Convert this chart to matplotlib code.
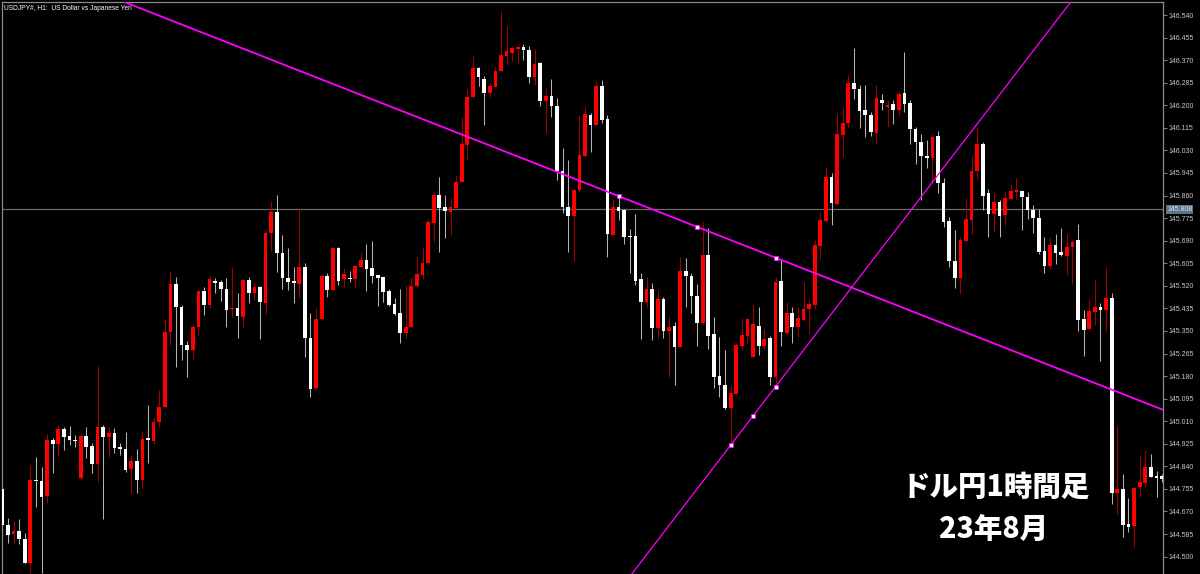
import matplotlib
matplotlib.use("Agg")
import matplotlib.pyplot as plt
import numpy as np

# USDJPY H1 candles (left -> right)
opens = [144.753, 144.619, 144.584, 144.598, 144.565, 144.475, 144.789, 144.786, 144.728, 144.939,
         144.924, 144.981, 144.954, 144.939, 144.795, 144.954, 144.917, 144.848, 144.987, 144.952,
         144.967, 144.914, 144.904, 144.829, 144.861, 144.789, 144.945, 144.937, 145.006, 145.062,
         145.345, 145.527, 145.441, 145.297, 145.278, 145.364, 145.500, 145.448, 145.539, 145.534,
         145.507, 145.431, 145.438, 145.404, 145.542, 145.492, 145.514, 145.456, 145.718, 145.797,
         145.642, 145.548, 145.538, 145.527, 145.592, 145.322, 145.134, 145.394, 145.557, 145.504,
         145.661, 145.544, 145.551, 145.544, 145.592, 145.617, 145.586, 145.560, 145.552, 145.502,
         145.452, 145.419, 145.341, 145.364, 145.519, 145.561, 145.605, 145.758, 145.862, 145.816,
         145.799, 145.812, 145.912, 146.050, 146.230, 146.339, 146.298, 146.247, 146.270, 146.330,
         146.386, 146.398, 146.413, 146.421, 146.408, 146.308, 146.358, 146.217, 146.235, 146.197,
         145.954, 145.818, 145.783, 145.881, 146.009, 146.163, 146.126, 146.273, 146.147, 145.711,
         145.818, 145.806, 145.709, 145.708, 145.544, 145.460, 145.509, 145.360, 145.469, 145.351,
         145.369, 145.291, 145.577, 145.557, 145.482, 145.381, 145.636, 145.338, 145.180, 145.146,
         145.058, 145.113, 145.293, 145.331, 145.253, 145.369, 145.293, 145.322, 145.175, 145.539,
         145.343, 145.419, 145.366, 145.391, 145.431, 145.448, 145.670, 145.765, 145.929, 145.828,
         146.088, 146.134, 146.285, 146.260, 146.182, 146.163, 146.094, 146.221, 146.194, 146.205,
         146.183, 146.247, 146.208, 146.112, 146.063, 146.009, 146.003, 146.083, 145.907, 145.763,
         145.614, 145.550, 145.689, 145.768, 145.952, 146.054, 145.868, 145.791, 145.837, 145.787,
         145.846, 145.875, 145.878, 145.856, 145.806, 145.774, 145.652, 145.595, 145.674, 145.649,
         145.634, 145.668, 145.691, 145.394, 145.358, 145.422, 145.439, 145.430, 145.473, 144.738,
         144.753, 144.623, 144.615, 144.761, 144.779, 144.836, 144.804, 144.804]
highs = [144.760, 144.644, 144.635, 144.640, 144.588, 144.845, 144.874, 144.839, 144.962, 144.945,
         144.996, 144.987, 144.992, 144.958, 144.962, 144.987, 144.929, 145.218, 144.996, 144.989,
         144.983, 144.927, 144.971, 144.883, 144.904, 144.974, 145.071, 145.025, 145.128, 145.394,
         145.576, 145.552, 145.448, 145.312, 145.372, 145.502, 145.517, 145.557, 145.548, 145.542,
         145.548, 145.590, 145.494, 145.545, 145.552, 145.536, 145.519, 145.730, 145.841, 145.862,
         145.711, 145.661, 145.590, 145.818, 145.605, 145.416, 145.435, 145.565, 145.570, 145.663,
         145.665, 145.586, 145.577, 145.597, 145.649, 145.678, 145.690, 145.562, 145.554, 145.507,
         145.473, 145.507, 145.523, 145.554, 145.632, 145.665, 145.770, 145.875, 145.929, 145.862,
         145.849, 145.937, 146.155, 146.260, 146.386, 146.345, 146.310, 146.283, 146.345, 146.556,
         146.499, 146.423, 146.431, 146.431, 146.423, 146.411, 146.364, 146.264, 146.298, 146.226,
         146.038, 145.994, 145.883, 146.160, 146.195, 146.172, 146.293, 146.295, 146.163, 145.846,
         145.853, 145.808, 145.733, 145.790, 145.569, 145.552, 145.529, 145.504, 145.477, 145.401,
         145.385, 145.630, 145.623, 145.567, 145.527, 145.762, 145.736, 145.401, 145.328, 145.278,
         145.146, 145.303, 145.397, 145.397, 145.452, 145.441, 145.356, 145.331, 145.552, 145.620,
         145.460, 145.439, 145.439, 145.536, 145.469, 145.693, 145.799, 145.966, 145.944, 146.170,
         146.192, 146.314, 146.416, 146.276, 146.276, 146.176, 146.276, 146.241, 146.217, 146.221,
         146.253, 146.401, 146.221, 146.119, 146.093, 146.071, 146.084, 146.102, 145.926, 145.779,
         145.730, 145.704, 145.849, 146.009, 146.119, 146.063, 145.884, 145.868, 145.843, 145.875,
         145.904, 145.925, 145.881, 145.872, 145.824, 145.808, 145.703, 145.703, 145.715, 145.737,
         145.715, 145.693, 145.753, 145.430, 145.471, 145.541, 145.455, 145.589, 145.494, 144.992,
         144.811, 144.720, 144.757, 144.883, 144.902, 144.887, 144.824, 144.811]
lows = [144.600, 144.553, 144.553, 144.548, 144.475, 144.440, 144.686, 144.440, 144.701, 144.814,
        144.879, 144.902, 144.920, 144.912, 144.793, 144.870, 144.814, 144.782, 144.640, 144.876,
        144.891, 144.883, 144.820, 144.738, 144.738, 144.757, 144.851, 144.924, 144.987, 145.060,
        145.297, 145.213, 145.241, 145.178, 145.243, 145.335, 145.410, 145.435, 145.492, 145.464,
        145.364, 145.404, 145.322, 145.366, 145.454, 145.467, 145.318, 145.414, 145.652, 145.573,
        145.507, 145.504, 145.456, 145.473, 145.251, 145.100, 145.130, 145.391, 145.479, 145.502,
        145.523, 145.514, 145.536, 145.514, 145.590, 145.502, 145.532, 145.444, 145.460, 145.444,
        145.410, 145.303, 145.322, 145.360, 145.517, 145.544, 145.603, 145.686, 145.649, 145.699,
        145.711, 145.808, 145.910, 145.994, 146.226, 146.273, 146.126, 146.232, 146.268, 146.327,
        146.352, 146.368, 146.358, 146.371, 146.285, 146.276, 146.197, 146.097, 146.155, 145.919,
        145.793, 145.649, 145.615, 145.875, 146.006, 146.025, 146.124, 146.132, 145.630, 145.709,
        145.768, 145.677, 145.567, 145.523, 145.318, 145.439, 145.316, 145.322, 145.322, 145.178,
        145.146, 145.288, 145.441, 145.416, 145.293, 145.376, 145.281, 145.134, 145.102, 145.055,
        144.920, 145.111, 145.278, 145.303, 145.251, 145.259, 145.281, 145.146, 145.143, 145.293,
        145.338, 145.306, 145.328, 145.389, 145.338, 145.431, 145.620, 145.762, 145.749, 145.826,
        146.006, 146.113, 146.222, 146.113, 146.079, 146.084, 146.059, 146.183, 146.119, 146.131,
        146.161, 146.176, 146.054, 145.977, 145.843, 145.965, 145.907, 145.868, 145.743, 145.589,
        145.512, 145.490, 145.686, 145.714, 145.922, 145.807, 145.704, 145.724, 145.703, 145.749,
        145.843, 145.846, 145.730, 145.770, 145.718, 145.640, 145.570, 145.582, 145.602, 145.634,
        145.561, 145.527, 145.349, 145.255, 145.353, 145.374, 145.237, 145.345, 144.698, 144.661,
        144.573, 144.594, 144.535, 144.723, 144.764, 144.799, 144.726, 144.780]
closes = [144.619, 144.581, 144.598, 144.565, 144.477, 144.789, 144.784, 144.726, 144.939, 144.924,
          144.981, 144.952, 144.939, 144.934, 144.954, 144.914, 144.848, 144.987, 144.952, 144.967,
          144.910, 144.904, 144.826, 144.861, 144.789, 144.942, 144.940, 145.008, 145.062, 145.345,
          145.527, 145.439, 145.297, 145.278, 145.366, 145.500, 145.448, 145.544, 145.532, 145.507,
          145.429, 145.438, 145.406, 145.542, 145.494, 145.514, 145.460, 145.718, 145.797, 145.642,
          145.548, 145.536, 145.529, 145.592, 145.322, 145.130, 145.394, 145.557, 145.504, 145.661,
          145.539, 145.565, 145.544, 145.595, 145.617, 145.582, 145.557, 145.551, 145.498, 145.448,
          145.414, 145.344, 145.366, 145.519, 145.565, 145.605, 145.762, 145.862, 145.812, 145.803,
          145.816, 145.912, 146.054, 146.230, 146.339, 146.308, 146.247, 146.273, 146.330, 146.389,
          146.404, 146.414, 146.418, 146.408, 146.308, 146.355, 146.217, 146.235, 146.197, 145.954,
          145.818, 145.783, 145.881, 146.013, 146.167, 146.126, 146.273, 146.145, 145.715, 145.818,
          145.803, 145.705, 145.705, 145.539, 145.460, 145.509, 145.360, 145.469, 145.351, 145.366,
          145.291, 145.577, 145.557, 145.482, 145.381, 145.636, 145.331, 145.178, 145.146, 145.058,
          145.118, 145.297, 145.335, 145.394, 145.376, 145.293, 145.318, 145.175, 145.536, 145.347,
          145.419, 145.366, 145.397, 145.431, 145.452, 145.674, 145.768, 145.929, 145.833, 146.092,
          146.134, 146.285, 146.260, 146.180, 146.163, 146.101, 146.226, 146.208, 146.202, 146.183,
          146.243, 146.205, 146.110, 146.063, 146.009, 146.003, 146.080, 145.907, 145.759, 145.612,
          145.550, 145.691, 145.772, 145.952, 146.054, 145.858, 145.789, 145.837, 145.783, 145.850,
          145.878, 145.881, 145.856, 145.806, 145.774, 145.649, 145.595, 145.674, 145.645, 145.636,
          145.665, 145.686, 145.391, 145.355, 145.426, 145.439, 145.430, 145.473, 144.738, 144.753,
          144.619, 144.613, 144.757, 144.782, 144.836, 144.801, 144.795, 144.791]

# trend lines (bar index, price of the anchor squares)
trend1_idx = [110, 124, 138]
trend1_px = [145.858, 145.743, 145.626]
trend2_idx = [130, 134, 138]
trend2_px = [144.920, 145.030, 145.140]

last_price = 145.808
ytick_vals = [146.540 - 0.085 * k for k in range(25)]
ytick_labels = ["%.3f" % v for v in ytick_vals]

title = "USDJPY#, H1:  US Dollar vs Japanese Yen"
caption1 = "ドル円1時間足"
caption2 = "23年8月"

fig = plt.figure(figsize=(12, 5.74), dpi=100, facecolor="black")
ax = fig.add_axes([2 / 1200, 0, 1161 / 1200, 572 / 574])
ax.set_facecolor("black")

o = np.array(opens)
h = np.array(highs)
l = np.array(lows)
c = np.array(closes)
x = np.arange(len(o))
up = c >= o

# wicks
ax.vlines(x[up], l[up], h[up], color="#a00000", lw=0.75, zorder=2)
ax.vlines(x[~up], l[~up], h[~up], color="#b4b4b4", lw=0.75, zorder=2)
# bodies
bot = np.minimum(o, c)
hgt = np.maximum(np.abs(c - o), 0.004)
ax.bar(x[up], hgt[up], bottom=bot[up], width=0.66, color="#ff0000", lw=0, zorder=3)
ax.bar(x[~up], hgt[~up], bottom=bot[~up], width=0.66, color="white", lw=0, zorder=3)

# current price line
ax.axhline(last_price, color="#6a6a6a", lw=0.9, zorder=1)

# trend lines
ax.axline((trend1_idx[0], trend1_px[0]), (trend1_idx[-1], trend1_px[-1]),
          color="#ff00ff", lw=1.3, zorder=4)
ax.axline((trend2_idx[0], trend2_px[0]), (trend2_idx[-1], trend2_px[-1]),
          color="#ff00ff", lw=0.9, zorder=4)
ax.plot(trend1_idx, trend1_px, ls="none", marker="s", ms=3.2, mfc="white",
        mec="#ff00ff", mew=0.6, zorder=5)
ax.plot(trend2_idx, trend2_px, ls="none", marker="s", ms=3.2, mfc="white",
        mec="#ff00ff", mew=0.6, zorder=5)

ax.set_xlim(-0.054, 207.16)
ax.set_ylim(144.4345, 146.589)
ax.set_xticks([])

ax.yaxis.tick_right()
ax.set_yticks(ytick_vals)
ax.set_yticklabels(ytick_labels)
ax.tick_params(axis="y", colors="#9a9a9a", labelcolor="#c8c8c8", length=3,
               width=0.6, pad=1, labelsize=5)
for lab in ax.get_yticklabels():
    lab.set_family("Liberation Sans")

for side in ["left", "top", "right"]:
    ax.spines[side].set_color("#8c8c8c")
    ax.spines[side].set_linewidth(0.9)
ax.spines["bottom"].set_visible(False)

ax.text(1.0035, last_price, "%.3f" % last_price, transform=ax.get_yaxis_transform(),
        fontsize=5, family="Liberation Sans", color="#dde4ec", va="center", ha="left",
        bbox=dict(boxstyle="square,pad=0.15", fc="#5f738c", ec="none"), zorder=6,
        clip_on=False)

fig.text(4 / 1200, 1 - 8 / 574, title, color="white", fontsize=4.8,
         family="Liberation Sans", va="center", ha="left")

fig.text(996 / 1200, 1 - 487 / 574, caption1, color="white", fontsize=20.5,
         family=["Noto Sans CJK JP", "DejaVu Sans"], weight="heavy",
         ha="center", va="center")
fig.text(994 / 1200, 1 - 529 / 574, caption2, color="white", fontsize=20.5,
         family=["Noto Sans CJK JP", "DejaVu Sans"], weight="heavy",
         ha="center", va="center")

fig.savefig("out.png", dpi=100, facecolor="black")
